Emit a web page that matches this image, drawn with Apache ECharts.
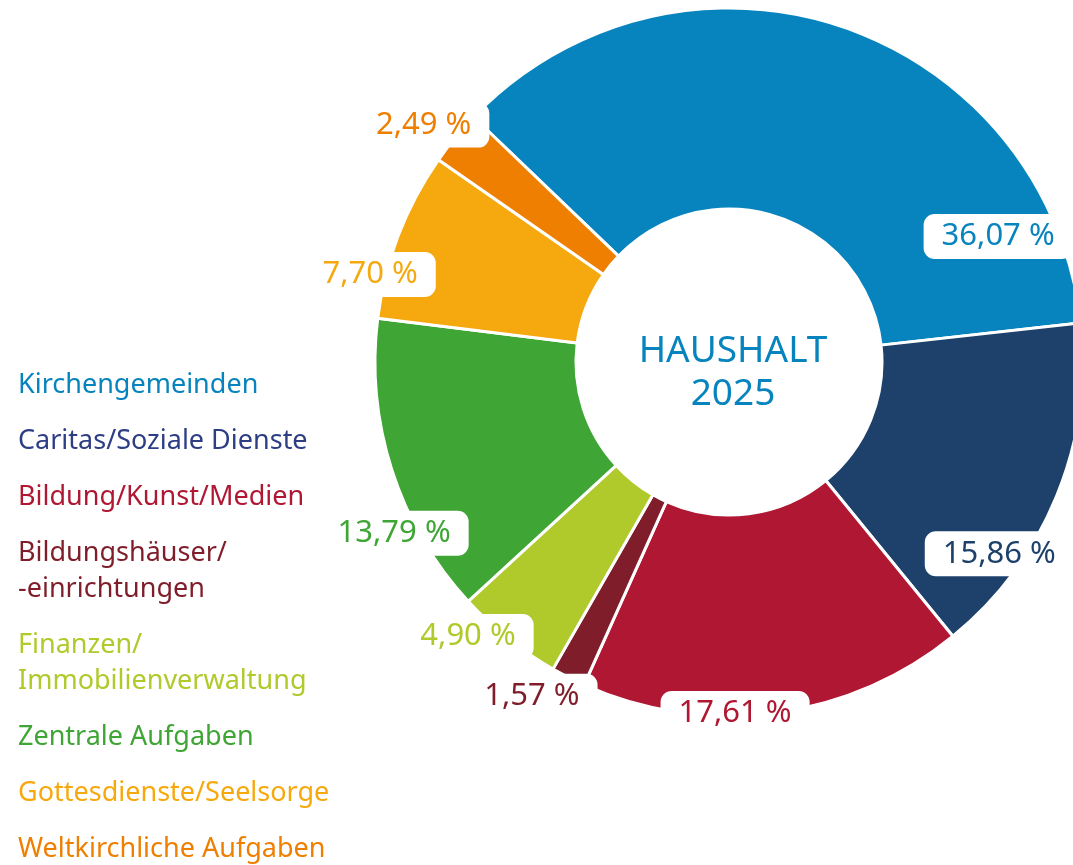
<!DOCTYPE html>
<html>
<head>
<meta charset="utf-8">
<script src="https://cdn.jsdelivr.net/npm/echarts@6/dist/echarts.min.js"></script>
<style>
html, body { margin: 0; padding: 0; background: #fff; }
#haushalt { width: 1073px; height: 865px; }
</style>
</head>
<body>
<div id="haushalt"></div>
<script>
var categories = ['Kirchengemeinden', 'Caritas/Soziale Dienste', 'Bildung/Kunst/Medien',
    'Bildungshäuser/\n-einrichtungen', 'Finanzen/\nImmobilienverwaltung', 'Zentrale Aufgaben',
    'Gottesdienste/Seelsorge', 'Weltkirchliche Aufgaben'];
var shares = [36.07, 15.86, 17.61, 1.57, 4.90, 13.79, 7.70, 2.49];
var centerText = 'HAUSHALT\n2025';

var sliceColors = ['#0784bd', '#1d416b', '#b01733', '#7f1d2a', '#afca2a', '#3fa535', '#f6a90f', '#ee7f00'];
var legendColors = ['#0784bd', '#2e3e85', '#b01733', '#7f1d2a', '#afca2a', '#3fa535', '#f6a90f', '#ee7f00'];

// where the percent boxes sit: how far along the slice, distance from centre
var labelSpots = [[0.853, 298], [0.724, 330], [0.603, 349], [1.157, 386],
    [0.793, 377], [0.318, 375], [0.251, 370], [0.364, 388]];

var fontName = '"Noto Sans", "Open Sans", sans-serif';
var cx = 729, cy = 362, rIn = 153, rOut = 354;
var startCompass = 313.8; // degrees clockwise from 12 o'clock

var total = 0;
for (var i = 0; i < shares.length; i++) total += shares[i];
var sliceStart = [];
var acc = startCompass;
for (var i = 0; i < shares.length; i++) {
    sliceStart.push(acc);
    acc += shares[i] / total * 360;
}

var pieData = [];
var legendData = [];
for (var i = 0; i < categories.length; i++) {
    pieData.push({
        name: categories[i],
        value: shares[i],
        itemStyle: { color: sliceColors[i] },
        label: { color: sliceColors[i] }
    });
    legendData.push({
        name: categories[i],
        textStyle: { color: legendColors[i] }
    });
}

var chart = echarts.init(document.getElementById('haushalt'));
var option = {
    animation: false,
    backgroundColor: '#fff',
    legend: {
        orient: 'vertical',
        left: 13,
        top: 367,
        height: 540,
        padding: 0,
        icon: 'none',
        itemWidth: 0,
        itemHeight: 10,
        itemGap: 20,
        selectedMode: false,
        data: legendData,
        textStyle: {
            fontFamily: fontName,
            fontSize: 27,
            lineHeight: 36
        }
    },
    graphic: [{
        type: 'text',
        x: cx + 4,
        y: cy + 11,
        z: 10,
        style: {
            text: centerText,
            align: 'center',
            verticalAlign: 'middle',
            fill: '#0784bd',
            font: '37px ' + fontName,
            lineHeight: 43
        }
    }],
    series: [{
        type: 'pie',
        center: [cx, cy],
        radius: [rIn, rOut],
        startAngle: 90 - startCompass,
        clockwise: true,
        avoidLabelOverlap: false,
        silent: true,
        itemStyle: { borderColor: '#fff', borderWidth: 3 },
        label: {
            show: true,
            position: 'outside',
            fontFamily: fontName,
            fontSize: 31,
            lineHeight: 34,
            backgroundColor: '#fff',
            borderRadius: 11,
            padding: [6, 18, 5, 18],
            formatter: function (p) {
                return p.value.toFixed(2).replace('.', ',') + ' %';
            }
        },
        labelLine: { show: false },
        labelLayout: function (p) {
            var i = p.dataIndex;
            var ang = (sliceStart[i] + labelSpots[i][0] * shares[i] / total * 360) * Math.PI / 180;
            return {
                x: cx + labelSpots[i][1] * Math.sin(ang),
                y: cy - labelSpots[i][1] * Math.cos(ang) + 2.5,
                align: 'center',
                verticalAlign: 'middle'
            };
        },
        data: pieData
    }]
};
chart.setOption(option);
</script>
</body>
</html>
